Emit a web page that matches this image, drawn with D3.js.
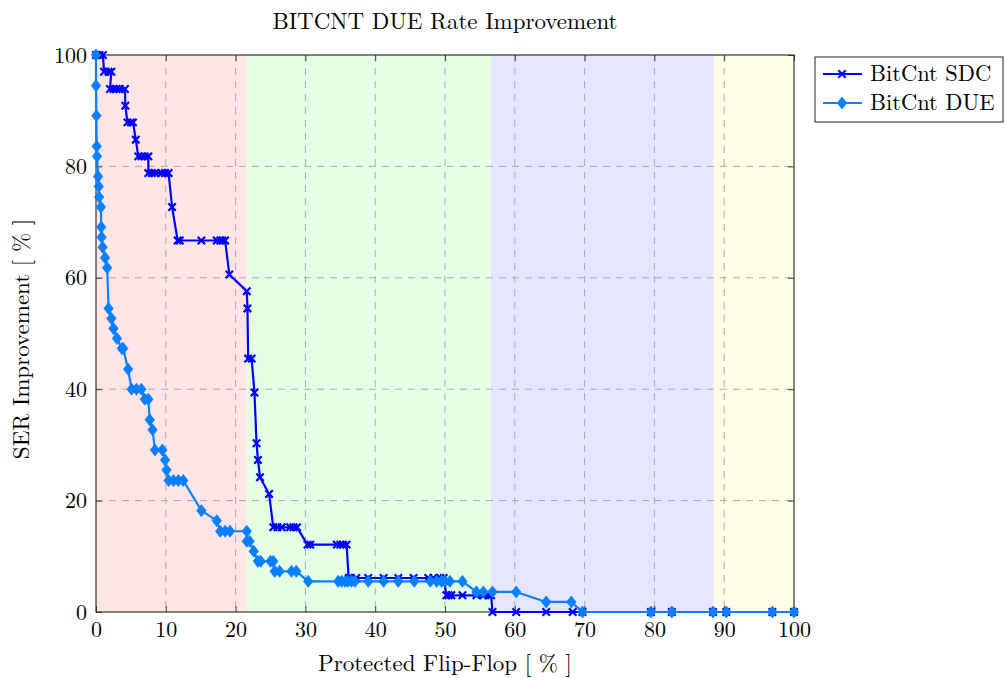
<!DOCTYPE html>
<html><head><meta charset="utf-8">
<script src="https://cdn.jsdelivr.net/npm/d3@7"></script>
<style>body{margin:0;background:#fff}svg{display:block}</style>
</head><body><svg id="c" width="1006" height="678"></svg>
<script>
const title = "BITCNT DUE Rate Improvement";
const xLabel = "Protected Flip-Flop [ % ]";
const yLabel = "SER Improvement [ % ]";
const xTicks = [0,10,20,30,40,50,60,70,80,90,100];
const yTicks = [0,20,40,60,80,100];
const bands = [
  {from:0, to:21.6, color:"#ffe5e5"},
  {from:21.6, to:56.6, color:"#e5ffe5"},
  {from:56.6, to:88.5, color:"#e5e5ff"},
  {from:88.5, to:100, color:"#fffde5"}
];
const seriesNames = ["BitCnt SDC","BitCnt DUE"];
const sdcX = [0,0.5,1.0,1.15,1.8,2.2,2.0,2.5,2.95,3.4,4.15,4.2,4.5,5.0,5.3,5.7,6.05,6.5,7.0,7.5,7.5,8.0,8.45,9.4,9.9,10.4,10.9,11.7,12.0,15.1,17.3,17.8,18.1,18.5,19.1,21.6,21.7,21.8,22.3,22.7,23.0,23.2,23.5,24.8,25.4,26.0,26.6,27.8,28.3,28.8,30.3,30.7,34.5,35.0,35.4,35.9,36.2,36.5,37.3,39.0,41.2,43.3,45.5,47.6,48.3,49.3,49.8,50.2,50.5,50.9,52.5,54.5,55.5,56.2,56.6,56.8,60.2,64.5,68.3,69.7,79.5,82.5,88.4,90.3,96.9,100];
const sdcY = [100,100,100,97.0,97.0,97.0,93.9,93.9,93.9,93.9,93.9,90.9,87.9,87.9,87.9,84.8,81.8,81.8,81.8,81.8,78.8,78.8,78.8,78.8,78.8,78.8,72.7,66.7,66.7,66.7,66.7,66.7,66.7,66.7,60.6,57.6,54.5,45.5,45.5,39.4,30.3,27.3,24.2,21.2,15.2,15.2,15.2,15.2,15.2,15.2,12.1,12.1,12.1,12.1,12.1,12.1,6.1,6.1,6.1,6.1,6.1,6.1,6.1,6.1,6.1,6.1,6.1,3.0,3.0,3.0,3.0,3.0,3.0,3.0,3.0,0,0,0,0,0,0,0,0,0,0,0];
const dueX = [0,0,0.05,0.1,0.15,0.3,0.4,0.45,0.7,0.75,0.8,0.95,1.3,1.6,1.8,2.2,2.5,3.0,3.7,3.9,4.6,5.1,5.8,6.5,7.0,7.5,7.7,8.1,8.45,9.5,9.9,10.1,10.4,11.1,11.8,12.5,15.1,17.3,17.8,18.5,19.2,21.6,21.6,22.0,22.6,23.2,23.6,25.0,25.4,25.6,26.3,28.0,28.7,30.4,34.7,35.2,35.7,36.1,36.6,37.1,39.0,41.2,43.3,45.6,47.9,48.8,49.5,50.0,50.7,52.5,54.5,55.5,56.8,60.2,64.5,68.1,69.7,79.5,82.5,88.4,90.3,96.9,100];
const dueY = [100,94.5,89.1,83.6,81.8,78.2,76.4,74.5,72.7,69.1,67.3,65.5,63.6,61.8,54.5,52.7,50.9,49.1,47.3,47.3,43.6,40.0,40.0,40.0,38.2,38.2,34.5,32.7,29.1,29.1,27.3,25.5,23.6,23.6,23.6,23.6,18.2,16.4,14.5,14.5,14.5,14.5,12.7,12.7,10.9,9.1,9.1,9.1,9.1,7.3,7.3,7.3,7.3,5.5,5.5,5.5,5.5,5.5,5.5,5.5,5.5,5.5,5.5,5.5,5.5,5.5,5.5,5.5,5.5,5.5,3.6,3.6,3.6,3.6,1.8,1.8,0,0,0,0,0,0,0];
const colors = ["#0000ff","#0a7fff"];

const FONT = '"Latin Modern Roman","CMU Serif","Liberation Serif",serif';
const FS = 23;
const svg = d3.select("#c");
const L=96, R=794, T=55, B=612;
const x = d3.scaleLinear().domain([0,100]).range([L,R]);
const y = d3.scaleLinear().domain([0,100]).range([B,T]);

svg.selectAll("rect.band").data(bands).enter().append("rect")
  .attr("x",d=>x(d.from)).attr("width",d=>x(d.to)-x(d.from))
  .attr("y",T).attr("height",B-T).attr("fill",d=>d.color);

// grid
const g = svg.append("g");
g.selectAll("line.gx").data(xTicks.slice(1,-1)).enter().append("line")
  .attr("x1",d=>x(d)).attr("x2",d=>x(d)).attr("y1",T).attr("y2",B)
  .attr("stroke","#aaaaaa").attr("stroke-width",1).attr("stroke-dasharray","7,6");
g.selectAll("line.gy").data(yTicks.slice(1,-1)).enter().append("line")
  .attr("y1",d=>y(d)).attr("y2",d=>y(d)).attr("x1",L).attr("x2",R)
  .attr("stroke","#aaaaaa").attr("stroke-width",1).attr("stroke-dasharray","7,6");

// axes (ticks inside, on all four sides)
const xa = svg.append("g").attr("transform",`translate(0,${B})`)
  .call(d3.axisBottom(x).tickValues(xTicks).tickSize(-6).tickPadding(9).tickFormat(d3.format("d")));
const ya = svg.append("g").attr("transform",`translate(${L},0)`)
  .call(d3.axisLeft(y).tickValues(yTicks).tickSize(-6).tickPadding(9).tickFormat(d3.format("d")));
const xt = svg.append("g").attr("transform",`translate(0,${T})`)
  .call(d3.axisTop(x).tickValues(xTicks).tickSize(-6).tickFormat(""));
const yr = svg.append("g").attr("transform",`translate(${R},0)`)
  .call(d3.axisRight(y).tickValues(yTicks).tickSize(-6).tickFormat(""));
[xa,ya,xt,yr].forEach(a=>{a.select(".domain").remove();
  a.selectAll(".tick line").attr("stroke","#444");
  a.selectAll("text").attr("font-size",22).style("font-family",FONT).attr("fill","#000");});
xa.selectAll("text").attr("dy","0.72em");
svg.append("rect").attr("x",L).attr("y",T).attr("width",R-L).attr("height",B-T)
  .attr("fill","none").attr("stroke","#222").attr("stroke-width",1.1);

// series
const data = [
  {name:seriesNames[0], pts:sdcX.map((v,i)=>[v,sdcY[i]]), color:colors[0], mark:"x"},
  {name:seriesNames[1], pts:dueX.map((v,i)=>[v,dueY[i]]), color:colors[1], mark:"d"}
];
const line = d3.line().x(d=>x(d[0])).y(d=>y(d[1]));
const xMark = s=>`M${-s},${-s}L${s},${s}M${-s},${s}L${s},${-s}`;
const dMark = (w,h)=>`M0,${-h}L${w},0L0,${h}L${-w},0Z`;
function drawMark(sel, s){
  if(s.mark==="x") sel.append("path").attr("d",xMark(3.7)).attr("stroke",s.color).attr("stroke-width",2.2).attr("fill","none");
  else sel.append("path").attr("d",dMark(4.7,6)).attr("fill",s.color).attr("stroke",s.color).attr("stroke-width",0.8);
}
data.forEach(s=>{
  svg.append("path").datum(s.pts).attr("d",line).attr("fill","none")
    .attr("stroke",s.color).attr("stroke-width",2.2).attr("stroke-linejoin","round");
  svg.append("g").selectAll("g").data(s.pts).enter().append("g")
    .attr("transform",d=>`translate(${x(d[0])},${y(d[1])})`)
    .each(function(){drawMark(d3.select(this),s);});
});

// title & labels
const txt = (sel,fs)=>sel.attr("font-size",fs||FS).style("font-family",FONT).attr("fill","#000");
svg.append("text").attr("x",(L+R)/2).attr("y",29).attr("text-anchor","middle").call(txt).text(title);
svg.append("text").attr("x",(L+R)/2).attr("y",671).attr("text-anchor","middle").call(txt).text(xLabel);
svg.append("text").attr("transform",`translate(29,339) rotate(-90)`).attr("text-anchor","middle").call(txt).text(yLabel);

// legend
const lg = svg.append("g");
lg.append("rect").attr("x",815).attr("y",57).attr("width",188).attr("height",65)
  .attr("fill","#fff").attr("stroke","#222").attr("stroke-width",1);
data.forEach((s,i)=>{
  const yy = 74 + i*29;
  lg.append("line").attr("x1",823).attr("x2",862).attr("y1",yy).attr("y2",yy)
    .attr("stroke",s.color).attr("stroke-width",2.2);
  const m = lg.append("g").attr("transform",`translate(842,${yy})`);
  drawMark(m,s);
  lg.append("text").attr("x",870).attr("y",yy+7).call(txt,22.5).text(s.name);
});
</script></body></html>
